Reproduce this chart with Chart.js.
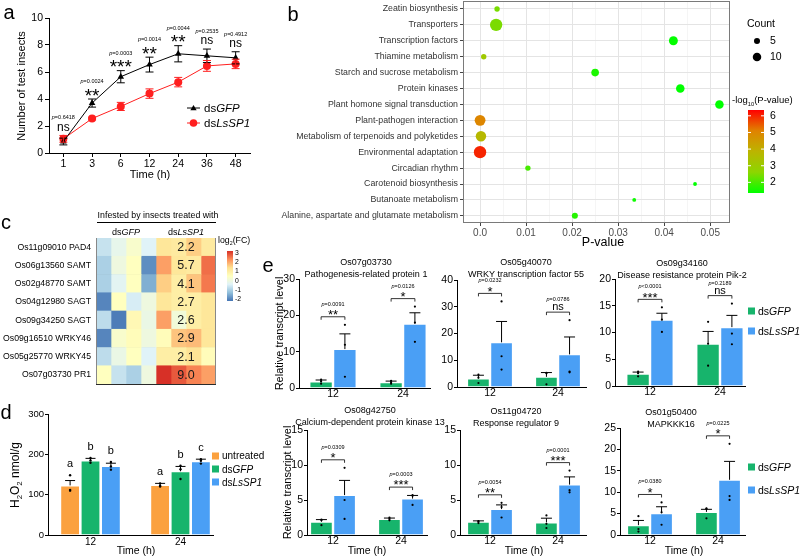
<!DOCTYPE html>
<html><head><meta charset="utf-8">
<script src="https://cdn.jsdelivr.net/npm/chart.js"></script>
<style>
html,body{margin:0;padding:0;background:#fff}
#wrap{position:relative;width:800px;height:556px;overflow:hidden;background:#fff}
#wrap canvas{position:absolute;left:0;top:0}
</style></head><body><div id="wrap"></div>
<script>
// ================= DATA =================
// Panel a: number of test insects over time
const aTimes=['1','3','6','12','24','36','48'];
const aGFP=[0.85,3.7,5.65,6.55,7.35,7.2,7.05];
const aGFPsem=[0.25,0.3,0.45,0.55,0.6,0.5,0.45];
const aLs=[1.05,2.55,3.45,4.4,5.25,6.45,6.6];
const aLsSem=[0.25,0.1,0.3,0.35,0.35,0.4,0.35];
const aP=['p=0.6418','p=0.0024','p=0.0003','p=0.0014','p=0.0044','p=0.2535','p=0.4912'];
const aSig=['ns','**','***','**','**','ns','ns'];
const aYticks=[0,2,4,6,8,10];

// Panel b: enrichment bubbles
const bPathways=['Zeatin biosynthesis','Transporters','Transcription factors','Thiamine metabolism',
 'Starch and sucrose metabolism','Protein kinases','Plant homone signal transduction','Plant-pathogen interaction',
 'Metabolism of terpenoids and polyketides','Environmental adaptation','Circadian rhythm','Carotenoid biosynthesis',
 'Butanoate metabolism','Alanine, aspartate and glutamate metabolism'];
const bPvalue=[0.0037,0.0035,0.042,0.0008,0.025,0.0435,0.052,0.00001,0.0002,0.000001,0.0104,0.0467,0.0335,0.0206];
const bCount=[4,21,11,4,8,10,10,16,15,21,4,2,2,5];
const bXticks=[0,0.01,0.02,0.03,0.04,0.05];
const bCountLegend=[5,10];
const bColorTicks=[2,3,4,5,6];

// Panel c: heatmap log2(FC)
const cGenes=['Os11g09010 PAD4','Os06g13560 SAMT','Os02g48770 SAMT','Os04g12980 SAGT','Os09g34250 SAGT','Os09g16510 WRKY46','Os05g25770 WRKY45','Os07g03730 PR1'];
const cFC=['2.2','5.7','4.1','2.7','2.6','2.9','2.1','9.0'];
const cPAD4  =[-0.7,-0.2,0.3,-0.4, 1.2,1.1,1.6,1.1];
const cSAMT1 =[-1.0,0.0,0.5,-1.9, 2.1,1.2,1.1,2.6];
const cSAMT2 =[-1.0,-0.3,0.5,-1.5, 1.6,1.0,1.7,2.5];
const cSAGT1 =[-2.0,0.5,-0.5,0.0, 1.2,1.0,1.0,1.2];
const cSAGT2 =[-0.8,-2.1,0.7,-0.1, 2.1,0.1,1.0,1.2];
const cWRKY46=[-2.0,0.3,0.6,0.0, 0.6,1.7,1.8,1.2];
const cWRKY45=[-0.8,-0.1,0.5,-0.4, 1.0,1.0,1.3,0.6];
const cPR1   =[0.5,-0.7,-1.0,0.0, 3.2,2.8,2.4,2.1];
const cLegendTicks=[3,2,1,0,-1,-2];

// Panel d: H2O2 content
const dTimes=['12','24'];
const dUntreated=[123,124], dUntreatedSem=[12,4];
const dGFP=[185,158], dGFPsem=[5,12];
const dLs=[171,183], dLsSem=[7,5];
const dUntreatedDots=[[148,112,110],[128,120,122]];
const dGFPdots=[[191,185,179],[172,163,139]];
const dLsDots=[[181,170,162],[188,184,177]];
const dLetters=[['a','b','b'],['a','b','c']];
const dYticks=[0,100,200,300];

// Panel e: relative transcript levels
const eTimes=['12','24'];
const eGenes=['Os07g03730','Os05g40070','Os09g34160','Os08g42750','Os11g04720','Os01g50400'];
const eNames=['Pathogenesis-related protein 1','WRKY transcription factor 55','Disease resistance protein Pik-2',
 'Calcium-dependent protein kinase 13','Response regulator 9','MAPKKK16'];
const eGFPmean=[[1.8,1.6],[3.2,3.8],[2.3,7.9],[1.9,2.3],[1.9,1.8],[2.3,5.4]];
const eGFPsem =[[0.4,0.3],[1.2,1.6],[0.3,2.3],[0.3,0.12],[0.12,0.6],[1.1,0.6]];
const eLsMean =[[10.7,17.7],[16.7,12.2],[12.4,11.0],[5.7,5.2],[3.7,7.2],[5.1,12.9]];
const eLsSem  =[[4.2,3.0],[7.8,6.5],[1.2,2.2],[2.1,0.45],[0.6,1.1],[1.5,4.3]];
const eGFPdots=[[[1.2,1.8,2.3],[1.2,1.6,2.0]],[[1.5,3.5,4.6],[1.0,5.3,5.1]],[[1.8,2.4,2.7],[3.8,7.9,12.0]],
 [[1.4,2.1,2.2],[2.1,2.3,2.5]],[[1.7,1.9,2.0],[1.0,1.6,2.8]],[[0.8,1.4,4.4],[3.9,6.1,6.2]]];
const eLsDots=[[[3.1,11.9,17.4],[12.7,18.0,22.4]],[[6.5,11.5,32.0],[5.5,5.8,25.0]],[[10.1,12.4,14.7],[7.8,9.8,15.4]],
 [[2.3,5.0,9.6],[4.3,5.6,5.7]],[[2.5,4.0,4.6],[6.1,6.4,9.2]],[[2.4,5.3,7.6],[8.2,9.1,21.3]]];
const eP=[['p=0.0091','p=0.0126'],['p=0.0232','p=0.0786'],['p<0.0001','p=0.2189'],['p=0.0309','p=0.0003'],['p=0.0054','p=0.0001'],['p=0.0380','p=0.0225']];
const eSig=[['**','*'],['*','ns'],['***','ns'],['*','***'],['**','***'],['*','*']];
const eYmax=[30,40,20,15,15,25];
const eYstep=[10,10,5,5,5,5];

// ================= STYLE / HELPERS =================
const FONT="'Liberation Sans', Arial, Helvetica, sans-serif";
function hasFont(name){const c=document.createElement('canvas').getContext('2d');const s='abcdefghijklmnopqrstuvwxyz0123';
  c.font='20px monospace';const b=c.measureText(s).width;c.font="20px "+name+", monospace";return Math.abs(c.measureText(s).width-b)>0.5;}
const NARROW=hasFont("'Liberation Sans Narrow'")?"'Liberation Sans Narrow'":null;
Chart.defaults.font.family=FONT;
Chart.defaults.color='#000';
const W=800,H=556;
const GREEN='#17b46c', BLUE='#4a9ff5', ORANGE='#fba13f', RED='#ff1f1f';
const wrap=document.getElementById('wrap');
function newCanvas(oy){oy=oy||0;const c=document.createElement('canvas');c.width=W;c.height=H+oy;c.style.width=W+'px';c.style.height=(H+oy)+'px';c.style.top=(-oy)+'px';wrap.appendChild(c);return c;}
function pad(a,yW,xH,oy){oy=oy||0;return {left:a.l-yW,top:a.t+oy,right:W-a.r,bottom:H-a.b-xH};}
function zeroPad(s){s.paddingTop=0;s.paddingBottom=0;s.paddingLeft=0;s.paddingRight=0;}
function fixW(w){return s=>{s.width=w;zeroPad(s);};}
function fixH(h){return s=>{s.height=h;zeroPad(s);};}
function mk(type,data,options,plugins,oy){
  const o=Object.assign({responsive:false,maintainAspectRatio:false,animation:false,events:[],devicePixelRatio:1},options);
  o.plugins=Object.assign({legend:{display:false},tooltip:{enabled:false}},options.plugins||{});
  return new Chart(newCanvas(oy),{type,data,options:o,plugins:plugins||[]});
}
function font(sz,it,bold,narrow){
  if(narrow){return (it?'italic ':'')+(bold?'bold ':'')+(NARROW?sz+'px '+NARROW:(sz*0.82).toFixed(2)+'px '+FONT);}
  return (it?'italic ':'')+(bold?'bold ':'')+sz+'px '+FONT;}
function txt(ctx,s,x,y,sz,opt){opt=opt||{};ctx.save();ctx.font=font(sz,opt.it,opt.bold,opt.narrow);ctx.fillStyle=opt.color||'#000';
  ctx.textAlign=opt.align||'center';ctx.textBaseline='middle';ctx.translate(x,y);if(opt.rot)ctx.rotate(opt.rot);ctx.fillText(s,0,0);ctx.restore();}
function rich(ctx,parts,x,y,sz,align,rot,color){
  ctx.save();ctx.fillStyle=color||'#000';ctx.textBaseline='alphabetic';ctx.textAlign='left';
  ctx.translate(x,y);if(rot)ctx.rotate(rot);
  let w=0;for(const p of parts){ctx.font=font(sz*(p.s||1),p.it);w+=ctx.measureText(p.t).width;}
  let cx=align==='center'?-w/2:align==='right'?-w:0;
  for(const p of parts){ctx.font=font(sz*(p.s||1),p.it);ctx.fillText(p.t,cx,0.36*sz+(p.dy||0)*sz);cx+=ctx.measureText(p.t).width;}
  ctx.restore();
}
const GFPtxt=[{t:'ds'},{t:'GFP',it:true}], LStxt=[{t:'ds'},{t:'LsSP1',it:true}];
function ptext(ctx,s,x,y,sz){rich(ctx,[{t:'p',it:true},{t:s.slice(1)}],x,y,sz,'center');}
function sig(ctx,s,x,cy,sz){ctx.save();ctx.font=font(sz);ctx.fillStyle='#000';ctx.textAlign='center';ctx.textBaseline='alphabetic';
  ctx.fillText(s,x,s.indexOf('*')>=0?cy+0.56*sz:cy+0.27*sz);ctx.restore();}
function hexc(h){h=h.replace('#','');return [0,2,4].map(i=>parseInt(h.substr(i,2),16));}
function mix(a,b,t){const pa=hexc(a),pb=hexc(b);return 'rgb('+pa.map((v,i)=>Math.round(v+(pb[i]-v)*t)).join(',')+')';}
function ramp(stops,t){t=Math.max(0,Math.min(1,t));const n=stops.length-1;const p=t*n;const i=Math.min(n-1,Math.floor(p));return mix(stops[i],stops[i+1],p-i);}
function line(ctx,x1,y1,x2,y2,color,w){ctx.save();ctx.strokeStyle=color||'#000';ctx.lineWidth=w||1;ctx.beginPath();ctx.moveTo(x1,y1);ctx.lineTo(x2,y2);ctx.stroke();ctx.restore();}
function err(ctx,x,y1,y2,cap,color){ctx.save();ctx.strokeStyle=color||'#000';ctx.lineWidth=1;ctx.beginPath();ctx.moveTo(x,y1);ctx.lineTo(x,y2);ctx.moveTo(x-cap/2,y2);ctx.lineTo(x+cap/2,y2);ctx.stroke();ctx.restore();}
function dot(ctx,x,y,r,color){ctx.save();ctx.fillStyle=color||'#000';ctx.beginPath();ctx.arc(x,y,r,0,Math.PI*2);ctx.fill();ctx.restore();}
function tri(ctx,x,y,r,color){ctx.save();ctx.fillStyle=color;ctx.beginPath();ctx.moveTo(x,y-r);ctx.lineTo(x+r*0.87,y+r*0.5);ctx.lineTo(x-r*0.87,y+r*0.5);ctx.closePath();ctx.fill();ctx.restore();}
const blackBorder={color:'#000',width:1};
const tickGrid={drawOnChartArea:false,drawTicks:true,tickLength:4,tickColor:'#000',color:'#000'};
const noGrid={display:false,drawTicks:false,tickLength:0,offset:false};
const flatTicks={maxRotation:0,minRotation:0,autoSkip:false};

// ================= PANEL A =================
const aArea={l:49,t:18,r:250,b:153};
mk('line',{labels:aTimes,datasets:[
  {data:aGFP,borderColor:'#000',backgroundColor:'#000',borderWidth:1,pointStyle:'triangle',pointRadius:3.8,pointBorderWidth:0},
  {data:aLs,borderColor:RED,backgroundColor:RED,borderWidth:1,pointStyle:'circle',pointRadius:4,pointBorderWidth:0}
]},{
  layout:{padding:pad(aArea,40,30)},
  scales:{
    x:{type:'category',offset:true,grid:Object.assign({},tickGrid,{offset:false}),border:blackBorder,
       ticks:Object.assign({font:{size:10.5},color:'#000',padding:1},flatTicks),afterFit:fixH(30)},
    y:{min:0,max:10,grid:tickGrid,border:blackBorder,ticks:{font:{size:10.5},color:'#000',padding:2},
       afterBuildTicks:s=>{s.ticks=aYticks.map(v=>({value:v}));},afterFit:fixW(40)}
  }
},[{id:'aExtras',
  afterDatasetsDraw(ch){
    const ctx=ch.ctx,ys=ch.scales.y;
    [[aGFP,aGFPsem,'#000'],[aLs,aLsSem,RED]].forEach(([m,e,c],di)=>{
      ch.getDatasetMeta(di).data.forEach((el,i)=>{
        const yl=ys.getPixelForValue(m[i]-e[i]),yh=ys.getPixelForValue(m[i]+e[i]);
        err(ctx,el.x,yl,yh,8,c);line(ctx,el.x-4,yl,el.x+4,yl,c);
      });
    });
  },
  afterDraw(ch){
    const ctx=ch.ctx,ys=ch.scales.y,m0=ch.getDatasetMeta(0);
    aTimes.forEach((t,i)=>{
      const x=m0.data[i].x;
      const top=Math.min(ys.getPixelForValue(aGFP[i]+aGFPsem[i]),ys.getPixelForValue(aLs[i]+aLsSem[i]));
      sig(ctx,aSig[i],x,top-8,aSig[i]==='ns'?12:19);
      ptext(ctx,aP[i],x,top-18,5.5);
    });
    line(ctx,187,108,200,108,'#000');tri(ctx,193.5,108.5,3.6,'#000');rich(ctx,GFPtxt,204,108,11.5,'left');
    line(ctx,187,123,200,123,RED);dot(ctx,193.5,123,3.8,RED);rich(ctx,LStxt,204,123,11.5,'left');
    txt(ctx,'Number of test insects',22,86,11,{rot:-Math.PI/2});
    txt(ctx,'Time (h)',150,175,11);
    txt(ctx,'a',9,13,20);
  }}]);

// ================= PANEL B =================
const bArea={l:463,t:1,r:730,b:223};
const OYB=12; // canvas shifted up so the bubble overflow padding does not move the plot
const bStops=['#00ff00','#8cd600','#bcb400','#e08200','#ff0000'];
const B_MIN=1.36,B_MAX=6.35;
function bColorV(v){return ramp(bStops,(v-B_MIN)/(B_MAX-B_MIN));}
function bRadius(n){return 1.35*Math.sqrt(n);}
const isMajor=v=>Math.round(v*200)%2===0;
mk('bubble',{datasets:[{
  data:bPathways.map((n,i)=>({x:bPvalue[i],y:i+1,r:bRadius(bCount[i])})),
  backgroundColor:bPvalue.map(p=>bColorV(-Math.log10(p))),borderWidth:0
}]},{
  layout:{padding:pad(bArea,200,32,OYB)},
  clip:false,
  scales:{
    x:{type:'linear',min:-0.0037,max:0.0543,
       grid:{color:c=>c.tick&&isMajor(c.tick.value)?'#e4e4e4':'#f1f1f1',lineWidth:c=>c.tick&&isMajor(c.tick.value)?1:0.7,
             drawTicks:true,tickLength:3,tickColor:c=>c.tick&&isMajor(c.tick.value)?'#444':'rgba(0,0,0,0)'},
       border:{display:false},
       ticks:Object.assign({display:false},flatTicks),
       afterBuildTicks:s=>{const t=[];for(let k=0;k<=10;k++)t.push({value:k/200});s.ticks=t;},afterFit:fixH(32)},
    y:{type:'linear',reverse:true,min:0.5,max:14.45,
       grid:{color:'#e4e4e4',drawTicks:true,tickLength:3,tickColor:'#444'},border:{display:false},
       ticks:{font:{size:8.8},color:'#333',padding:2,autoSkip:false,callback:v=>bPathways[v-1]},
       afterBuildTicks:s=>{s.ticks=bPathways.map((n,i)=>({value:i+1}));},afterFit:fixW(200)}
  }
},[{id:'bExtras',
  beforeDatasetsDraw(ch){const ctx=ch.ctx,a=ch.chartArea;ctx.save();ctx.strokeStyle='#7a7a7a';ctx.lineWidth=1;
    ctx.strokeRect(a.left+0.5,a.top+0.5,a.right-a.left-1,a.bottom-a.top-1);ctx.restore();},
  afterDraw(ch){
    const ctx=ch.ctx,xs=ch.scales.x,a=ch.chartArea;
    bXticks.forEach(v=>txt(ctx,v===0?'0.0':v.toFixed(2),xs.getPixelForValue(v),a.bottom+10,10,{color:'#4d4d4d'}));
    ctx.save();ctx.translate(0,OYB);
    txt(ctx,'P-value',603,243,12.5);
    txt(ctx,'b',293,15,20);
    txt(ctx,'Count',747,24,10.5,{align:'left'});
    bCountLegend.forEach((n,i)=>{const y=41+i*16;dot(ctx,757,y,bRadius(n),'#000');txt(ctx,String(n),770,y,10.5,{align:'left'});});
    rich(ctx,[{t:'-log'},{t:'10',s:0.6,dy:0.25},{t:'(P-value)'}],732,100,9.5,'left');
    const top=110,bot=193;
    const g=ctx.createLinearGradient(0,bot,0,top);
    bStops.forEach((c,i)=>g.addColorStop(i/(bStops.length-1),c));
    ctx.fillStyle=g;ctx.fillRect(748,top,16,bot-top);
    bColorTicks.forEach(v=>{const y=bot-(v-B_MIN)/(B_MAX-B_MIN)*(bot-top);
      line(ctx,748,y,751,y,'#fff');line(ctx,761,y,764,y,'#fff');txt(ctx,String(v),770,y,10.5,{align:'left'});});
    ctx.restore();
  }}],OYB);

// ================= PANEL C =================
const cArea={l:96,t:238,r:216,b:384};
const cRows=[cPAD4,cSAMT1,cSAMT2,cSAGT1,cSAGT2,cWRKY46,cWRKY45,cPR1];
const RDYLBU=['#4575b4','#91bfdb','#e0f3f8','#ffffbf','#fee090','#fc8d59','#d73027'];
const H_MIN=-2.2,H_MAX=3.2;
function heat(v){return ramp(RDYLBU,(v-H_MIN)/(H_MAX-H_MIN));}
mk('bar',{labels:cGenes,datasets:cPAD4.map((_,j)=>({
  data:cGenes.map(()=>1),backgroundColor:cRows.map(r=>heat(r[j])),borderWidth:0,barPercentage:1,categoryPercentage:1}))},{
  indexAxis:'y',
  layout:{padding:pad(cArea,96,0)},
  scales:{
    x:{type:'linear',stacked:true,min:0,max:8,z:1,grid:{color:c=>c.tick&&c.tick.value===4?'#333':'rgba(0,0,0,0)',drawTicks:false,tickLength:0},
       border:{display:false},ticks:{display:false},afterBuildTicks:s=>{s.ticks=[{value:4}];},afterFit:fixH(0)},
    y:{type:'category',stacked:true,z:1,grid:{offset:true,color:'#2a2a2a',drawTicks:false,tickLength:0,lineWidth:1},border:{display:false},
       ticks:{font:{size:8.7},color:'#000',padding:5,autoSkip:false},afterFit:fixW(96)}
  }
},[{id:'cExtras',
  afterDraw(ch){
    const ctx=ch.ctx,a=ch.chartArea,xs=ch.scales.x,ys=ch.scales.y;
    ctx.save();ctx.strokeStyle='#888';ctx.lineWidth=1;ctx.beginPath();
    ctx.moveTo(a.left+0.5,a.top);ctx.lineTo(a.left+0.5,a.bottom);ctx.moveTo(a.right-0.5,a.top);ctx.lineTo(a.right-0.5,a.bottom);ctx.stroke();ctx.restore();
    cFC.forEach((s,i)=>txt(ctx,s,xs.getPixelForValue(6),ys.getPixelForValue(i)+0.5,12.5,{color:'#1a1a1a'}));
    txt(ctx,'Infested by insects treated with',158,216,8.8);
    line(ctx,97,222.5,216,222.5,'#000');
    rich(ctx,GFPtxt,xs.getPixelForValue(2),232,9,'center');
    rich(ctx,LStxt,xs.getPixelForValue(6),232,9,'center');
    rich(ctx,[{t:'log'},{t:'2',s:0.6,dy:0.25},{t:'(FC)'}],218,240,8.8,'left');
    const top=251,bot=301;
    const g=ctx.createLinearGradient(0,bot,0,top);
    RDYLBU.forEach((c,i)=>g.addColorStop(i/(RDYLBU.length-1),c));
    ctx.fillStyle=g;ctx.fillRect(227,top,6,bot-top);
    cLegendTicks.forEach(v=>{const y=bot-(v-H_MIN)/(H_MAX-H_MIN)*(bot-top);txt(ctx,String(v),235,y,6.8,{align:'left'});});
    txt(ctx,'c',6,223,20);
  }}]);

// ================= PANEL D =================
const dArea={l:48,t:414,r:213,b:535};
const dSp=90,dC0=90.5;
const dSeries=[[dUntreated,dUntreatedSem,dUntreatedDots,ORANGE,'untreated'],[dGFP,dGFPsem,dGFPdots,GREEN,'dsGFP'],[dLs,dLsSem,dLsDots,BLUE,'dsLsSP1']];
mk('bar',{datasets:dSeries.map(([m,,, c])=>({data:m.map((v,i)=>({x:i,y:v})),backgroundColor:c,borderColor:'rgba(255,255,255,0.6)',borderWidth:1,categoryPercentage:0.68,barPercentage:0.97}))},{
  layout:{padding:pad(dArea,30,16)},
  scales:{
    x:{type:'linear',offset:false,min:(dArea.l-dC0)/dSp,max:(dArea.r-dC0)/dSp,grid:noGrid,border:blackBorder,
       ticks:Object.assign({font:{size:10},color:'#000',padding:1,callback:v=>dTimes[v]},flatTicks),afterBuildTicks:s=>{s.ticks=dTimes.map((t,i)=>({value:i}));},afterFit:fixH(16)},
    y:{min:0,max:300,grid:Object.assign({},tickGrid,{tickLength:3}),border:blackBorder,ticks:{font:{size:9.5},color:'#000',padding:1},
       afterBuildTicks:s=>{s.ticks=dYticks.map(v=>({value:v}));},afterFit:fixW(30)}
  }
},[{id:'dExtras',
  afterDatasetsDraw(ch){
    const ctx=ch.ctx,ys=ch.scales.y;
    dSeries.forEach(([m,e,d],di)=>{
      ch.getDatasetMeta(di).data.forEach((el,i)=>{
        const yt=ys.getPixelForValue(m[i]+e[i]);
        err(ctx,el.x,ys.getPixelForValue(m[i]),yt,10);
        d[i].forEach(v=>dot(ctx,el.x,ys.getPixelForValue(v),1.2));
        const top=Math.min(yt,ys.getPixelForValue(Math.max(...d[i])));
        txt(ctx,dLetters[i][di],el.x,top-11,11);
      });
    });
  },
  afterDraw(ch){
    const ctx=ch.ctx;
    rich(ctx,[{t:'H'},{t:'2',s:0.65,dy:0.25},{t:'O'},{t:'2',s:0.65,dy:0.25},{t:' nmol/g'}],15,475,12,'center',-Math.PI/2);
    txt(ctx,'Time (h)',136,551,10.5);
    dSeries.forEach(([,,,c,name],i)=>{const y=456+i*13;ctx.fillStyle=c;ctx.fillRect(212,y-3.5,7,7);
      if(i===0)txt(ctx,name,222,y,10,{align:'left'});else rich(ctx,i===1?GFPtxt:LStxt,222,y,10,'left');});
    txt(ctx,'d',6,413,20);
  }}]);

// ================= PANEL E =================
const eLayout=[
 {l:299,t:279,b:388,r:430,c0:333,c1:403,tx:366,ty:263},
 {l:457,t:280,b:387,r:586,c0:490,c1:558,tx:526,ty:263},
 {l:615,t:279,b:386,r:745,c0:650,c1:720,tx:682,ty:264},
 {l:307,t:430,b:535,r:427,c0:333,c1:401,tx:370,ty:411},
 {l:460,t:430,b:535,r:586,c0:490,c1:558,tx:516,ty:412},
 {l:620,t:428,b:535,r:745,c0:650,c1:718,tx:671,ty:413}];
function eChart(k){
  const L=eLayout[k],sp=L.c1-L.c0;
  const series=[[eGFPmean[k],eGFPsem[k],eGFPdots[k],GREEN],[eLsMean[k],eLsSem[k],eLsDots[k],BLUE]];
  mk('bar',{datasets:series.map(([m,,,c])=>({data:m.map((v,i)=>({x:i,y:v})),backgroundColor:c,borderColor:'rgba(255,255,255,0.6)',borderWidth:1,categoryPercentage:0.68,barPercentage:0.98}))},{
    layout:{padding:pad(L,30,16)},
    scales:{
      x:{type:'linear',offset:false,min:(L.l-L.c0)/sp,max:(L.r-L.c0)/sp,grid:noGrid,border:blackBorder,
         ticks:Object.assign({font:{size:10.5},color:'#000',padding:0,callback:v=>eTimes[v]},flatTicks),afterBuildTicks:s=>{s.ticks=eTimes.map((t,i)=>({value:i}));},afterFit:fixH(16)},
      y:{min:0,max:eYmax[k],grid:Object.assign({},tickGrid,{tickLength:3}),border:blackBorder,ticks:{stepSize:eYstep[k],font:{size:10.5},color:'#000',padding:1},afterFit:fixW(30)}
    }
  },[{id:'eExtras'+k,
    afterDatasetsDraw(ch){
      const ctx=ch.ctx,ys=ch.scales.y;
      const tops=[[],[]];
      series.forEach(([m,e,d],di)=>{
        ch.getDatasetMeta(di).data.forEach((el,i)=>{
          const yt=ys.getPixelForValue(m[i]+e[i]);
          err(ctx,el.x,ys.getPixelForValue(m[i]),yt,11);
          d[i].forEach(v=>dot(ctx,el.x,ys.getPixelForValue(v),1.1));
          tops[i].push(Math.min(yt,ys.getPixelForValue(Math.max(...d[i]))));
        });
      });
      const m0=ch.getDatasetMeta(0),m1=ch.getDatasetMeta(1);
      eTimes.forEach((t,i)=>{
        const x0=m0.data[i].x,x1=m1.data[i].x,y=Math.min(...tops[i])-8;
        ctx.save();ctx.strokeStyle='#000';ctx.lineWidth=0.8;ctx.beginPath();
        ctx.moveTo(x0,y+3);ctx.lineTo(x0,y);ctx.lineTo(x1,y);ctx.lineTo(x1,y+3);ctx.stroke();ctx.restore();
        const s=eSig[k][i];
        sig(ctx,s,(x0+x1)/2,y-5,s==='ns'?11:13);
        ptext(ctx,eP[k][i],(x0+x1)/2,y-13,5.5);
      });
    },
    afterDraw(ch){
      const ctx=ch.ctx;
      txt(ctx,eGenes[k],L.tx,L.ty,11,{narrow:true});
      txt(ctx,eNames[k],L.tx,L.ty+12,11,{narrow:true});
      if(k===0||k===3) txt(ctx,'Relative transcript level',L.l-19,(L.t+L.b)/2,11,{rot:-Math.PI/2});
      if(k>=3) txt(ctx,'Time (h)',(L.c0+L.c1)/2,551,10.5);
      if(k===0) txt(ctx,'e',268,266,20);
      if(k===2||k===5){
        const ly=k===2?[311,331]:[467,490];
        ctx.fillStyle=GREEN;ctx.fillRect(748,ly[0]-3.5,7,7);rich(ctx,GFPtxt,758,ly[0],10.5,'left');
        ctx.fillStyle=BLUE;ctx.fillRect(748,ly[1]-3.5,7,7);rich(ctx,LStxt,758,ly[1],10.5,'left');
      }
    }}]);
}
for(let k=0;k<6;k++)eChart(k);
</script></body></html>
